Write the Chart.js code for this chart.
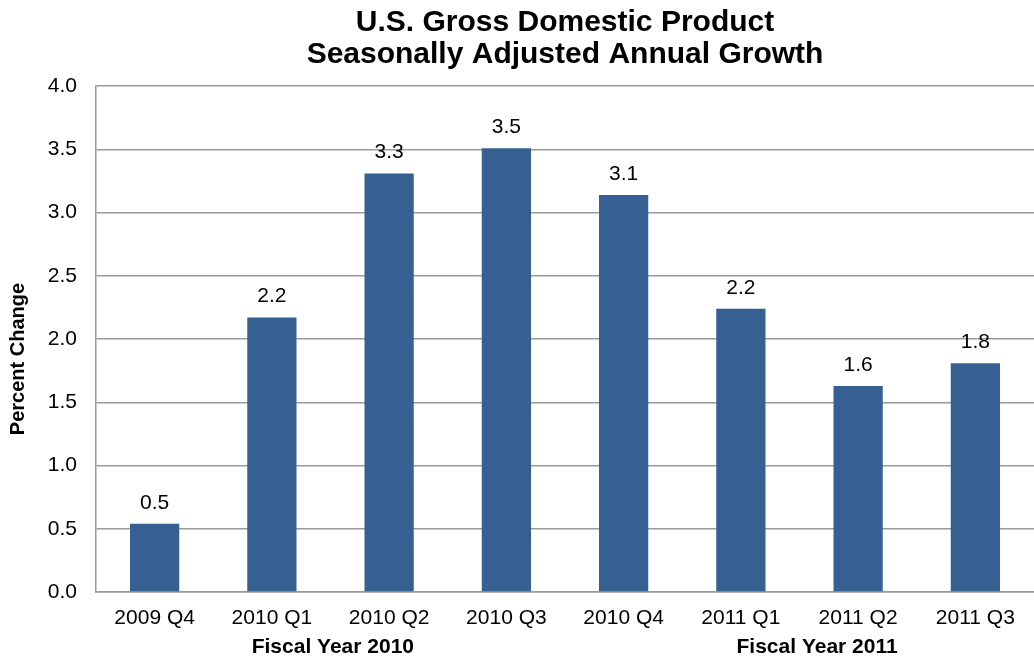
<!DOCTYPE html>
<html>
<head>
<meta charset="utf-8">
<script src="https://cdn.jsdelivr.net/npm/chart.js@4"></script>
<style>
  html, body { margin: 0; padding: 0; background: #fff; }
  #wrap { width: 1034px; height: 666px; }
</style>
</head>
<body>
<div id="wrap"><canvas id="c" width="1034" height="666"></canvas></div>
<script>
const categories = ['2009 Q4', '2010 Q1', '2010 Q2', '2010 Q3', '2010 Q4', '2011 Q1', '2011 Q2', '2011 Q3'];
const growth = [0.54, 2.17, 3.31, 3.51, 3.14, 2.24, 1.63, 1.81];
const fiscalYears = ['Fiscal Year 2010', 'Fiscal Year 2011'];
const titleLines = ['U.S. Gross Domestic Product', 'Seasonally Adjusted Annual Growth'];
const yTitle = 'Percent Change';

const FONT = '"Liberation Sans", Arial, sans-serif';

const extrasPlugin = {
  id: 'extras',
  afterDatasetsDraw(chart) {
    const ctx = chart.ctx;
    const meta = chart.getDatasetMeta(0);
    ctx.save();
    // data labels
    ctx.fillStyle = '#000';
    ctx.font = '21px ' + FONT;
    ctx.textAlign = 'center';
    ctx.textBaseline = 'middle';
    meta.data.forEach((bar, i) => {
      ctx.fillText(growth[i].toFixed(1), bar.x, bar.y - 21);
    });
    // fiscal year group labels
    const xs = chart.scales.x;
    const anchors = [1.52, 5.65];
    ctx.font = 'bold 21px ' + FONT;
    fiscalYears.forEach((t, i) => {
      ctx.fillText(t, xs.getPixelForValue(anchors[i]), 647);
    });
    // y axis title
    ctx.translate(18, 359);
    ctx.rotate(-Math.PI / 2);
    ctx.font = 'bold 20px ' + FONT;
    ctx.fillText(yTitle, 0, 0);
    ctx.restore();
  }
};

new Chart(document.getElementById('c'), {
  type: 'bar',
  data: {
    labels: categories,
    datasets: [{
      data: growth,
      backgroundColor: '#366092',
      borderWidth: 0,
      categoryPercentage: 1.0,
      barPercentage: 0.42
    }]
  },
  options: {
    responsive: false,
    animation: false,
    layout: { padding: { left: 0, right: 0, top: 0, bottom: 0 } },
    plugins: {
      legend: { display: false },
      tooltip: { enabled: false },
      title: {
        display: true,
        fullSize: false,
        text: titleLines,
        color: '#000',
        font: { family: FONT, size: 30, weight: 'bold', lineHeight: 1.07 },
        padding: { top: 7, bottom: 15 }
      }
    },
    scales: {
      x: {
        grid: { display: false, drawTicks: false },
        border: { display: true, color: '#9a9a9a', width: 1.5 },
        ticks: { color: '#000', font: { family: FONT, size: 21 }, padding: 14, maxRotation: 0, autoSkip: false },
        afterFit(scale) { scale.height = 74; }
      },
      y: {
        min: 0,
        max: 4,
        grid: { color: '#9a9a9a', lineWidth: 1.5, drawTicks: false },
        border: { display: true, color: '#9a9a9a', width: 1.5 },
        ticks: {
          stepSize: 0.5,
          color: '#000',
          font: { family: FONT, size: 21 },
          padding: 19,
          callback: v => Number(v).toFixed(1)
        },
        afterFit(scale) { scale.width = 96; }
      }
    }
  },
  plugins: [extrasPlugin]
});
</script>
</body>
</html>
